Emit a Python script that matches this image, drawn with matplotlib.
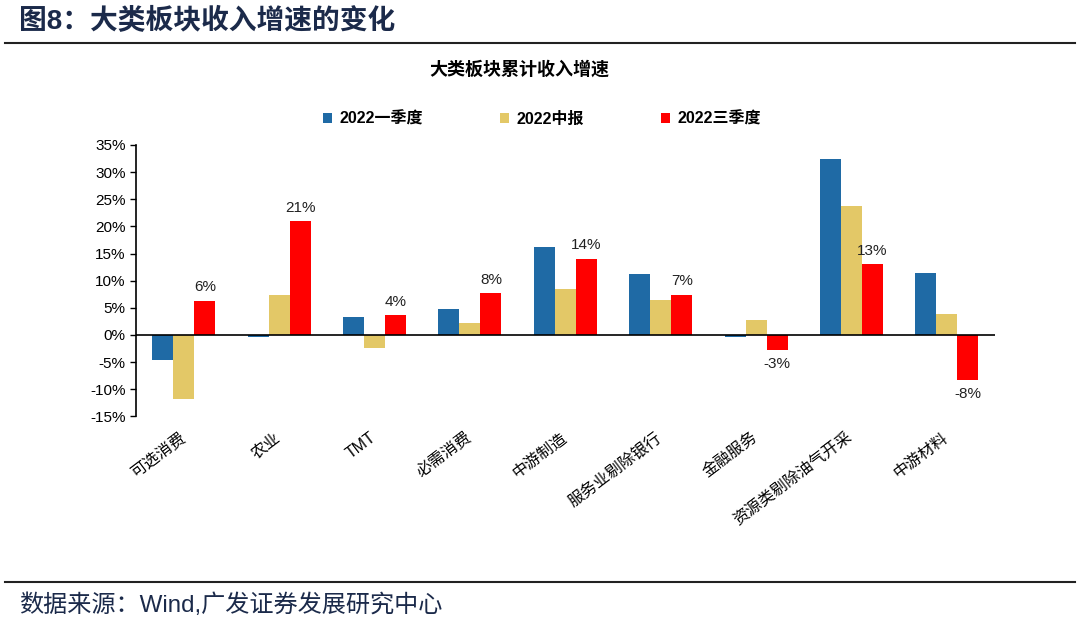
import numpy as np
import matplotlib.pyplot as plt
import matplotlib.transforms as mtransforms
from matplotlib.ticker import FuncFormatter

plt.rcParams['font.family'] = ['Liberation Sans', 'Noto Sans CJK SC', 'DejaVu Sans']
plt.rcParams['axes.unicode_minus'] = False

categories = ['可选消费', '农业', 'TMT', '必需消费', '中游制造', '服务业剔除银行',
              '金融服务', '资源类剔除油气开采', '中游材料']
q1_2022 = [-4.6, -0.3, 3.3, 4.7, 16.2, 11.2, -0.4, 32.4, 11.4]
h1_2022 = [-11.9, 7.4, -2.5, 2.1, 8.4, 6.5, 2.7, 23.8, 3.9]
q3_2022 = [6.3, 20.9, 3.6, 7.7, 14.0, 7.4, -2.8, 13.0, -8.4]
series_names = ['2022一季度', '2022中报', '2022三季度']
colors = ['#1F6AA5', '#E3C867', '#FF0000']

fig = plt.figure(figsize=(10.8, 6.25), dpi=100)

# header and footer
fig.text(0.018, 0.966, '图8：大类板块收入增速的变化', fontsize=20, fontweight='bold',
         color='#1b2a4a', va='center', ha='left')
fig.add_artist(plt.Line2D([0.005, 0.995], [0.932, 0.932], color='#222222', lw=1.5))
fig.add_artist(plt.Line2D([0.005, 0.995], [0.069, 0.069], color='#222222', lw=1.5))
fig.text(0.018, 0.031, '数据来源：Wind,广发证券发展研究中心', fontsize=17.4,
         color='#1b2a4a', va='center', ha='left')

ax = fig.add_axes([0.126, 0.334, 0.795, 0.434])
x = np.arange(len(categories))
w = 0.22
data = [q1_2022, h1_2022, q3_2022]
for i, (vals, name, c) in enumerate(zip(data, series_names, colors)):
    ax.bar(x + (i - 1) * w, vals, width=w, color=c, label=name)

for xi, v in zip(x, q3_2022):
    if v >= 0:
        ax.text(xi + w, v + 1.2, f'{v:.0f}%', ha='center', va='bottom', fontsize=11, color='#222222')
    else:
        ax.text(xi + w, v - 1.2, f'{v:.0f}%', ha='center', va='top', fontsize=11, color='#222222')

ax.axhline(0, color='black', lw=1.2)
ax.set_xlim(-0.5, len(categories) - 0.5)
ax.set_ylim(-15, 35)
ax.set_yticks(np.arange(-15, 36, 5))
ax.yaxis.set_major_formatter(FuncFormatter(lambda v, p: f'{v:.0f}%'))
ax.tick_params(axis='y', labelsize=11, length=4, width=1, direction='out')
ax.set_xticks(x)
ax.set_xticklabels(categories, rotation=37, ha='right', rotation_mode='anchor', fontsize=11.5)
ax.tick_params(axis='x', length=0, pad=12)
shift = mtransforms.ScaledTranslation(-5 / 100, 3 / 100, fig.dpi_scale_trans)
for lab in ax.get_xticklabels():
    lab.set_transform(lab.get_transform() + shift)
for s in ['top', 'right', 'bottom']:
    ax.spines[s].set_visible(False)
ax.spines['left'].set_linewidth(1.2)

fig.text(0.481, 0.888, '大类板块累计收入增速', fontsize=13, fontweight='bold', ha='center', va='center')
leg = fig.legend(loc='center', bbox_to_anchor=(0.502, 0.81), ncol=3, frameon=False,
                 handlelength=0.55, handleheight=0.55, columnspacing=4.8, handletextpad=0.5,
                 prop={'size': 11.5, 'weight': 'bold'})

plt.savefig('out.png', dpi=100)
